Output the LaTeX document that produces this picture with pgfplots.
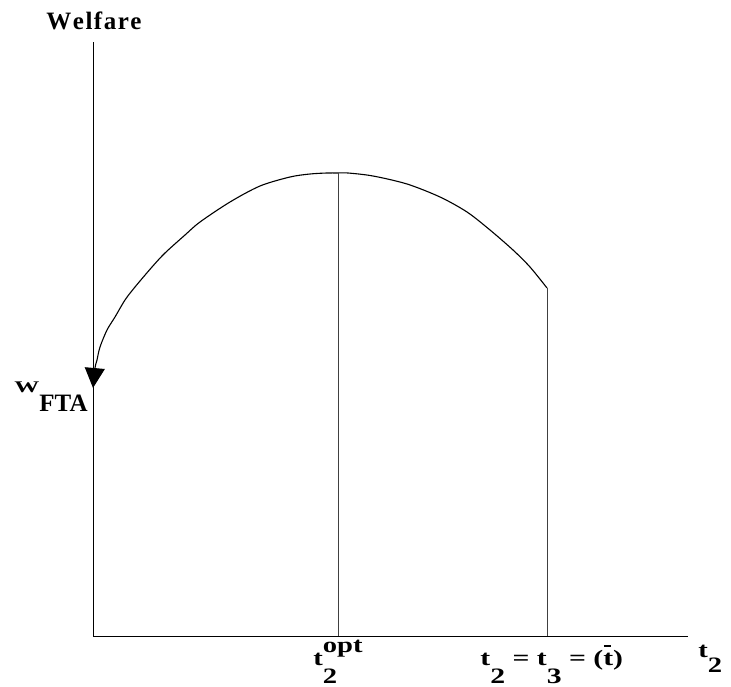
\documentclass[border=0pt]{standalone}
\usepackage{pgfplots}
\pgfplotsset{compat=1.18}
\usepackage{fontspec}
\setmainfont{Liberation Serif}
\usetikzlibrary{arrows.meta}
\begin{document}
\begin{tikzpicture}
\begin{axis}[
  width=297.5pt, height=297pt, scale only axis,
  xmin=0, xmax=595, ymin=0, ymax=594,
  axis lines=left, axis line style={-, black, line width=0.5pt},
  xtick=\empty, ytick=\empty,
  clip=false,
]
\path (axis cs:-93,636) rectangle (axis cs:638,-50);
% welfare curve
\addplot[black, line width=0.55pt, smooth, -{Triangle[width=10pt,length=10pt]}] coordinates {
(454,348)(437,369)(420,386)(397,406)(374,424)(347,439)(314,452)(280,460)(255,463)(244,463)(234,463)(217,462)(197,459)(167,450)(137,434)(107,414)(92,401)(72,383)(59,369)(42,349)(32,336)(22,319)(14,306)(7,289)(4,276)(2,268)(0,248)
};
% vertical lines
\addplot[black!75, line width=0.5pt] coordinates {(245,0)(245,463)};
\addplot[black!75, line width=0.5pt] coordinates {(454,0)(454,348)};
% labels
\node[anchor=base, inner sep=0pt, font=\fontsize{12.5}{14}\selectfont\bfseries] at (axis cs:1,606) {W\kern0.06em e\kern0.06em l\kern0.06em f\kern0.06em a\kern0.06em r\kern0.06em e};
\node[anchor=base east, inner sep=0pt, font=\fontsize{12.5}{14}\selectfont\bfseries] at (axis cs:-5,225) {\raisebox{9.5pt}{\scalebox{1}[0.65]{W}}FTA};
\node[anchor=base west, inner sep=0pt, font=\fontsize{11}{13}\selectfont\bfseries] at (axis cs:220,-29) {\scalebox{1.3}[1]{t\rlap{\raisebox{-9pt}{2}}\raisebox{6.5pt}{opt}}};
\node[anchor=base west, inner sep=0pt, font=\fontsize{11}{13}\selectfont\bfseries] at (axis cs:387,-29) {\scalebox{1.35}[1]{t\raisebox{-9pt}{2} = t\raisebox{-9pt}{3} = (\rlap{\kern0.02em\rule[9pt]{0.25em}{1pt}}t)}};
\node[anchor=base west, inner sep=0pt, font=\fontsize{11}{13}\selectfont\bfseries] at (axis cs:605,-21) {\scalebox{1.3}[1]{t\raisebox{-7.5pt}{2}}};
\end{axis}
\end{tikzpicture}
\end{document}
